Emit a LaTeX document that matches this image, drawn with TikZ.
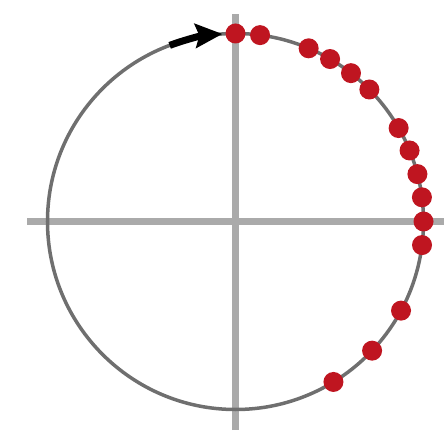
\documentclass[tikz,border=0pt]{standalone}
\usetikzlibrary{arrows.meta}
\definecolor{axisgray}{HTML}{AAAAAA}
\definecolor{circgray}{HTML}{6F6F6F}
\definecolor{dotred}{HTML}{BF1520}
\begin{document}
\begin{tikzpicture}[x=1pt,y=1pt,
  dot/.style={circle,fill=dotred,inner sep=0pt,minimum size=20pt},
  axis/.style={axisgray,line width=7pt},
  orbit/.style={circgray,line width=3.5pt},
  dirarrow/.style={black,line width=7pt,-{Stealth[length=27pt,width=24pt,inset=4pt]}}]
\useasboundingbox (-235.5,-208.5) rectangle (210.5,221.5);
\coordinate (O) at (0,0);
\coordinate (xl) at (-208,0);
\coordinate (xr) at (208,0);
\coordinate (yb) at (0,-208.5);
\coordinate (yt) at (0,207.5);
\draw[axis] (xl) -- (xr);
\draw[axis] (yb) -- (yt);
\draw[orbit] (O) circle (188);
\coordinate (as) at (110.5:188);
\draw[dirarrow] (as) arc (110.5:94:188);
\foreach \a [count=\i] in {90,82.5,67.1,59.8,52.1,44.6,29.8,22.2,14.6,7.4,0,-7.2,-28.3,-43.4,-58.6}
  \node[dot] (d\i) at (\a:188) {};
\end{tikzpicture}
\end{document}
